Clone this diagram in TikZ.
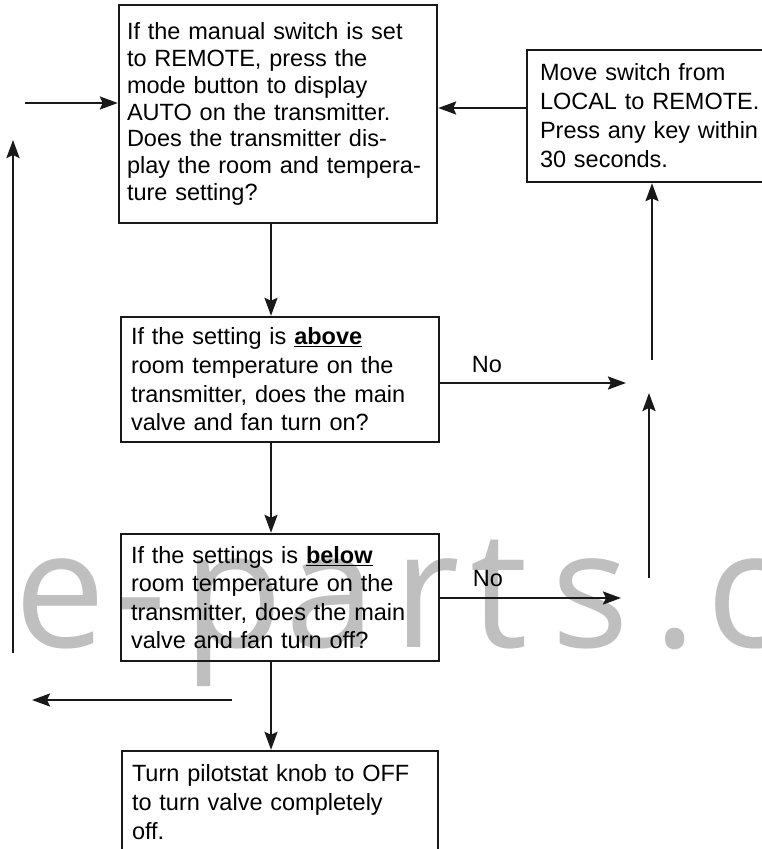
\documentclass[tikz,border=0pt]{standalone}
\usepackage{fontspec}
\setmainfont{Liberation Sans}
\newfontfamily\wmfont{Open Sans}
\usetikzlibrary{arrows.meta}
\begin{document}
\begin{tikzpicture}[x=1pt,y=-1pt,
  box/.style={draw=black!90, line width=2.4pt, inner sep=0pt, align=left},
  lbl/.style={inner sep=0pt, font=\fontsize{23.5}{28}\selectfont},
  arr/.style={draw=black!90, line width=2.2pt, -{Stealth[length=18pt,width=13pt,inset=3pt]}},
  wm/.style={text=black!25, font=\wmfont\fontsize{163}{163}\selectfont, anchor=base west, inner sep=0pt}]
\useasboundingbox (0,0) rectangle (762,849);
% watermark
\node[wm] (w1) at (14,647) {e};
\node[wm] (w2) at (114,647) {-};
\node[wm] (w3) at (183,647) {p};
\node[wm] (w4) at (285.5,647) {a};
\node[wm] (w5) at (393,647) {r};
\node[wm] (w6) at (470,647) {t};
\node[wm] (w7) at (551,647) {s};
\node[wm] (w8) at (653,647) {.};
\node[wm] (w9) at (706,647) {c};
% boxes
\node[box, minimum width=318pt, minimum height=218pt, text width=302pt,
      font=\fontsize{23.5}{26.7}\selectfont] (box1) at (278,114)
  {If the manual switch is set\\to REMOTE, press the\\mode button to display\\AUTO on the transmitter.\\Does the transmitter dis-\\play the room and tempera-\\ture setting?};
\node[box, minimum width=273pt, minimum height=132pt, text width=247pt,
      font=\fontsize{23.5}{29}\selectfont] (box2) at (663.5,116)
  {Move switch from\\LOCAL to REMOTE.\\Press any key within\\30 seconds.};
\node[box, minimum width=318pt, minimum height=125pt, text width=298pt,
      font=\fontsize{23.5}{28.7}\selectfont] (box3) at (280,379.5)
  {If the setting is \underline{\textbf{above}}\\room temperature on the\\transmitter, does the main\\valve and fan turn on?};
\node[box, minimum width=318pt, minimum height=127pt, text width=298pt,
      font=\fontsize{23.5}{28.3}\selectfont] (box4) at (280,597.5)
  {If the settings is \underline{\textbf{below}}\\room temperature on the\\transmitter, does the main\\valve and fan turn off?};
\node[box, minimum width=316pt, minimum height=103pt, text width=296pt,
      font=\fontsize{23.5}{29}\selectfont] (box5) at (280,802.5)
  {Turn pilotstat knob to OFF\\to turn valve completely\\off.};
% labels
\node[lbl] (lab1) at (487,365) {No};
\node[lbl] (lab2) at (488,579) {No};
% coordinates
\coordinate (mx) at (271,0);
\coordinate (inL) at (25,103);
\coordinate (b2y) at (0,108);
\coordinate (lvB) at (13,653);
\coordinate (lvT) at (13,140);
\coordinate (no1) at (626,383);
\coordinate (no2) at (621,598);
\coordinate (vB) at (649,578);
\coordinate (vT) at (649,393);
\coordinate (v2B) at (652,360);
\coordinate (oR) at (232,700);
\coordinate (oL) at (32,700);
% connectors
\draw[arr] (box1.south -| mx) -- (box3.north -| mx);
\draw[arr] (box3.south -| mx) -- (box4.north -| mx);
\draw[arr] (box4.south -| mx) -- (box5.north -| mx);
\draw[arr] (inL) -- (inL -| box1.west);
\draw[arr] (box2.west |- b2y) -- (box1.east |- b2y);
\draw[arr] (lvB) -- (lvT);
\draw[arr] (box3.east |- no1) -- (no1);
\draw[arr] (box4.east |- no2) -- (no2);
\draw[arr] (vB) -- (vT);
\draw[arr] (v2B) -- (box2.south -| v2B);
\draw[arr] (oR) -- (oL);
\end{tikzpicture}
\end{document}
